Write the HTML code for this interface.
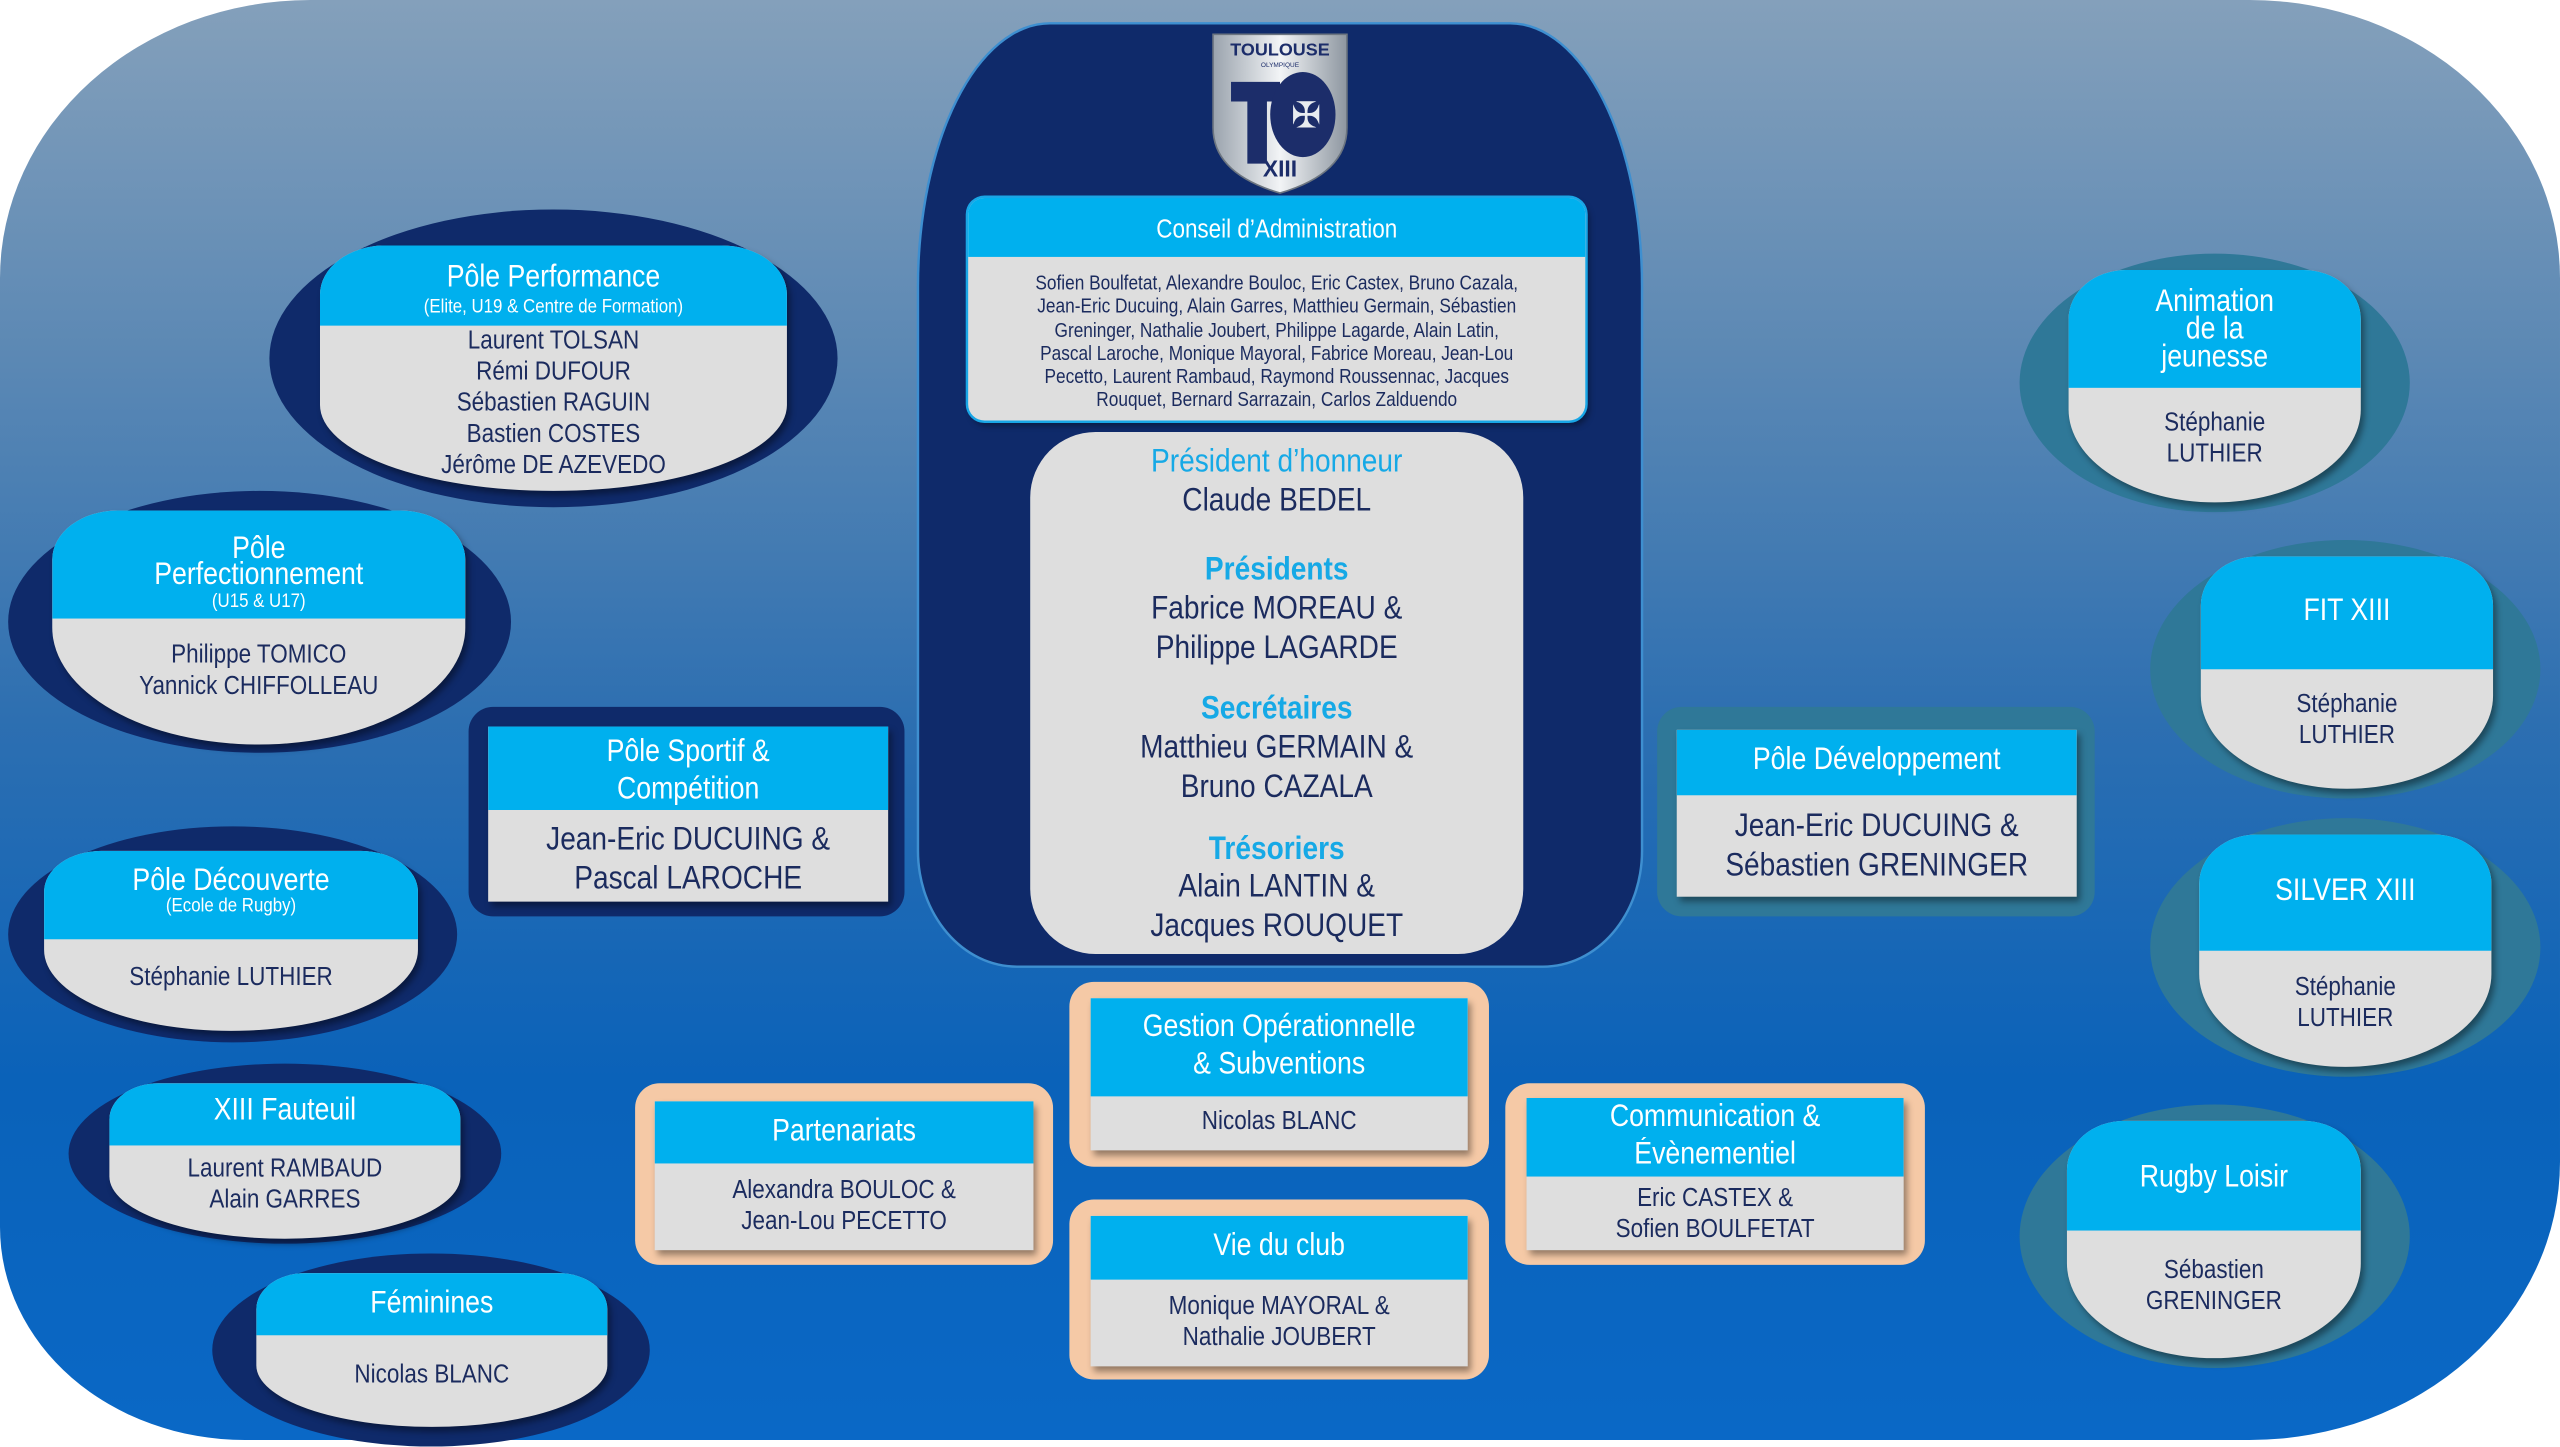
<!DOCTYPE html>
<html><head><meta charset="utf-8">
<style>
html,body{margin:0;padding:0;background:#fff;overflow:hidden}
#w{position:absolute;left:0;top:0;width:1568px;height:880px;transform-origin:0 0;transform:scale(1.63265,1.63636);font-family:"Liberation Sans",sans-serif;color:#1b2b5e}
.bg{position:absolute;left:0;top:0;width:1568px;height:880px;border-radius:190px 190px 190px 150px/170px 170px 170px 130px;background:linear-gradient(180deg,#84a0bb 0%,#5b88b4 25%,#2d6fb1 50%,#0a62b9 75%,#0a68c6 100%)}
.a{position:absolute}
.t{position:absolute;text-align:center;white-space:nowrap;line-height:20px;height:20px;transform:scaleX(0.86)}
.nav{background:#0f2a6a}
.teal{background:#2f7898}
.gray{background:#dedede}
.hd{position:absolute;left:0;right:0;top:0;background:#00b0ee}
.ell{position:absolute;border-radius:50%}
.inn{position:absolute;overflow:hidden;background:#dedede;box-shadow:2px 3px 4px rgba(0,0,0,.4)}
.w{color:#fff}
.lb{color:#16a9e6}
.sx{transform:scaleX(0.86)}
</style></head><body><div id="w">
<div class="bg"></div>

<!-- central -->
<div class="a nav" style="left:563px;top:15px;width:442px;height:575px;border-radius:80px 80px 60px 60px/160px 160px 70px 70px;box-shadow:0 0 0 1.5px #3e8fd0"></div>
<svg class="a" style="left:740px;top:18px" width="88" height="102" viewBox="0 0 88 102">
<defs><linearGradient id="sg" x1="0" x2="1"><stop offset="0" stop-color="#9aa3ad"/><stop offset=".5" stop-color="#f2f4f6"/><stop offset="1" stop-color="#8d96a0"/></linearGradient></defs>
<path d="M3 3 H85 V60 Q85 88 44 100 Q3 88 3 60 Z" fill="url(#sg)" stroke="#6c7580"/>
<text x="44" y="16" text-anchor="middle" font-family="Liberation Sans" font-weight="bold" font-size="11" fill="#1c2d6a">TOULOUSE</text>
<text x="44" y="23" text-anchor="middle" font-family="Liberation Sans" font-size="4" fill="#1c2d6a">OLYMPIQUE</text>
<path d="M14 32 H44 V44 H36 V82 H24 V44 H14 Z" fill="#1c2d6a"/>
<ellipse cx="58" cy="52" rx="20" ry="26" fill="#1c2d6a"/>
<text x="60" y="60" text-anchor="middle" font-size="22" fill="#e8ecf0">✠</text>
<text x="44" y="90" text-anchor="middle" font-family="Liberation Sans" font-weight="bold" font-size="14" fill="#1c2d6a">XIII</text>
</svg>

<div class="inn" style="left:593px;top:121px;width:378px;height:136px;border-radius:10px;box-shadow:0 0 0 1.5px #19a6e6,2px 3px 4px rgba(0,0,0,.4)"><div class="hd" style="height:36px"></div></div>
<div class="t w" style="left:593px;width:378px;top:131px;font-size:16px">Conseil d’Administration</div>
<div class="a sx" style="left:560px;width:444px;top:166px;font-size:12.3px;line-height:14.3px;text-align:center">Sofien Boulfetat, Alexandre Bouloc, Eric Castex, Bruno Cazala,<br>Jean-Eric Ducuing, Alain Garres, Matthieu Germain, Sébastien<br>Greninger, Nathalie Joubert, Philippe Lagarde, Alain Latin,<br>Pascal Laroche, Monique Mayoral, Fabrice Moreau, Jean-Lou<br>Pecetto, Laurent Rambaud, Raymond Roussennac, Jacques<br>Rouquet, Bernard Sarrazain, Carlos Zalduendo</div>

<div class="a gray" style="left:631px;top:264px;width:302px;height:319px;border-radius:40px"></div>
<div class="t lb" style="left:631px;width:302px;top:271px;font-size:20px;line-height:22px">Président d’honneur</div>
<div class="t" style="left:631px;width:302px;top:295px;font-size:20px;line-height:22px">Claude BEDEL</div>
<div class="t lb" style="left:631px;width:302px;top:337px;font-size:20px;line-height:22px;font-weight:bold">Présidents</div>
<div class="t" style="left:631px;width:302px;top:361px;font-size:20px;line-height:22px">Fabrice MOREAU &amp;</div>
<div class="t" style="left:631px;width:302px;top:385px;font-size:20px;line-height:22px">Philippe LAGARDE</div>
<div class="t lb" style="left:631px;width:302px;top:422px;font-size:20px;line-height:22px;font-weight:bold">Secrétaires</div>
<div class="t" style="left:631px;width:302px;top:446px;font-size:20px;line-height:22px">Matthieu GERMAIN &amp;</div>
<div class="t" style="left:631px;width:302px;top:470px;font-size:20px;line-height:22px">Bruno CAZALA</div>
<div class="t lb" style="left:631px;width:302px;top:508px;font-size:20px;line-height:22px;font-weight:bold">Trésoriers</div>
<div class="t" style="left:631px;width:302px;top:531px;font-size:20px;line-height:22px">Alain LANTIN &amp;</div>
<div class="t" style="left:631px;width:302px;top:555px;font-size:20px;line-height:22px">Jacques ROUQUET</div>

<!-- Pôle Performance -->
<div class="ell nav" style="left:165px;top:128px;width:348px;height:182px"></div>
<div class="inn" style="left:196px;top:150px;width:286px;height:150px;border-radius:40px 40px 50% 50%/30px 30px 35% 35%"><div class="hd" style="height:49px"></div></div>
<div class="t w" style="left:196px;width:286px;top:160px;font-size:19px">Pôle Performance</div>
<div class="t w" style="left:196px;width:286px;top:177px;font-size:12px">(Elite, U19 &amp; Centre de Formation)</div>
<div class="t" style="left:196px;width:286px;top:199px;font-size:16px">Laurent TOLSAN</div>
<div class="t" style="left:196px;width:286px;top:218px;font-size:16px">Rémi DUFOUR</div>
<div class="t" style="left:196px;width:286px;top:237px;font-size:16px">Sébastien RAGUIN</div>
<div class="t" style="left:196px;width:286px;top:256px;font-size:16px">Bastien COSTES</div>
<div class="t" style="left:196px;width:286px;top:275px;font-size:16px">Jérôme DE AZEVEDO</div>

<!-- Perfectionnement -->
<div class="ell nav" style="left:5px;top:300px;width:308px;height:160px"></div>
<div class="inn" style="left:32px;top:312px;width:253px;height:143px;border-radius:40px 40px 50% 50%/30px 30px 50% 50%"><div class="hd" style="height:66px"></div></div>
<div class="a w sx" style="left:32px;width:253px;top:328px;font-size:19px;line-height:16px;text-align:center">Pôle<br>Perfectionnement</div>
<div class="t w" style="left:32px;width:253px;top:357px;font-size:12px">(U15 &amp; U17)</div>
<div class="t" style="left:32px;width:253px;top:391px;font-size:16px">Philippe TOMICO</div>
<div class="t" style="left:32px;width:253px;top:410px;font-size:16px">Yannick CHIFFOLLEAU</div>

<!-- Sportif -->
<div class="a nav" style="left:287px;top:432px;width:267px;height:128px;border-radius:15px"></div>
<div class="inn" style="left:299px;top:444px;width:245px;height:107px"><div class="hd" style="height:51px"></div></div>
<div class="t w" style="left:299px;width:245px;top:450px;font-size:19px">Pôle Sportif &amp;</div>
<div class="t w" style="left:299px;width:245px;top:473px;font-size:19px">Compétition</div>
<div class="t" style="left:299px;width:245px;top:502px;font-size:20px;line-height:22px">Jean-Eric DUCUING &amp;</div>
<div class="t" style="left:299px;width:245px;top:526px;font-size:20px;line-height:22px">Pascal LAROCHE</div>

<!-- Découverte -->
<div class="ell nav" style="left:5px;top:505px;width:275px;height:132px"></div>
<div class="inn" style="left:27px;top:520px;width:229px;height:110px;border-radius:35px 35px 50% 50%/25px 25px 45% 45%"><div class="hd" style="height:54px"></div></div>
<div class="t w" style="left:27px;width:229px;top:529px;font-size:19px">Pôle Découverte</div>
<div class="t w" style="left:27px;width:229px;top:543px;font-size:12px">(Ecole de Rugby)</div>
<div class="t" style="left:27px;width:229px;top:588px;font-size:16px">Stéphanie LUTHIER</div>

<!-- XIII Fauteuil -->
<div class="ell nav" style="left:42px;top:650px;width:265px;height:110px"></div>
<div class="inn" style="left:67px;top:662px;width:215px;height:95px;border-radius:30px 30px 50% 50%/22px 22px 40% 40%"><div class="hd" style="height:38px"></div></div>
<div class="t w" style="left:67px;width:215px;top:669px;font-size:19px">XIII Fauteuil</div>
<div class="t" style="left:67px;width:215px;top:705px;font-size:16px">Laurent RAMBAUD</div>
<div class="t" style="left:67px;width:215px;top:724px;font-size:16px">Alain GARRES</div>

<!-- Féminines -->
<div class="ell nav" style="left:130px;top:766px;width:268px;height:118px"></div>
<div class="inn" style="left:157px;top:778px;width:215px;height:94px;border-radius:30px 30px 50% 50%/22px 22px 40% 40%"><div class="hd" style="height:38px"></div></div>
<div class="t w" style="left:157px;width:215px;top:787px;font-size:19px">Féminines</div>
<div class="t" style="left:157px;width:215px;top:831px;font-size:16px">Nicolas BLANC</div>

<!-- Right -->
<div class="ell teal" style="left:1237px;top:155px;width:239px;height:158px"></div>
<div class="inn" style="left:1267px;top:165px;width:179px;height:142px;border-radius:35px 35px 50% 50%/30px 30px 40% 40%"><div class="hd" style="height:72px"></div></div>
<div class="a w sx" style="left:1267px;width:179px;top:176px;font-size:19px;line-height:17px;text-align:center">Animation<br>de la<br>jeunesse</div>
<div class="t" style="left:1267px;width:179px;top:249px;font-size:16px">Stéphanie</div>
<div class="t" style="left:1267px;width:179px;top:268px;font-size:16px">LUTHIER</div>

<div class="ell teal" style="left:1317px;top:330px;width:239px;height:158px"></div>
<div class="inn" style="left:1348px;top:340px;width:179px;height:142px;border-radius:35px 35px 50% 50%/30px 30px 40% 40%"><div class="hd" style="height:69px"></div></div>
<div class="t w" style="left:1348px;width:179px;top:364px;font-size:19px">FIT XIII</div>
<div class="t" style="left:1348px;width:179px;top:421px;font-size:16px">Stéphanie</div>
<div class="t" style="left:1348px;width:179px;top:440px;font-size:16px">LUTHIER</div>

<div class="ell teal" style="left:1317px;top:500px;width:239px;height:158px"></div>
<div class="inn" style="left:1347px;top:510px;width:179px;height:142px;border-radius:35px 35px 50% 50%/30px 30px 40% 40%"><div class="hd" style="height:71px"></div></div>
<div class="t w" style="left:1347px;width:179px;top:535px;font-size:19px">SILVER XIII</div>
<div class="t" style="left:1347px;width:179px;top:594px;font-size:16px">Stéphanie</div>
<div class="t" style="left:1347px;width:179px;top:613px;font-size:16px">LUTHIER</div>

<div class="ell teal" style="left:1237px;top:675px;width:239px;height:161px"></div>
<div class="inn" style="left:1266px;top:685px;width:180px;height:145px;border-radius:35px 35px 50% 50%/30px 30px 40% 40%"><div class="hd" style="height:67px"></div></div>
<div class="t w" style="left:1266px;width:180px;top:710px;font-size:19px">Rugby Loisir</div>
<div class="t" style="left:1266px;width:180px;top:767px;font-size:16px">Sébastien</div>
<div class="t" style="left:1266px;width:180px;top:786px;font-size:16px">GRENINGER</div>

<!-- Développement -->
<div class="a teal" style="left:1015px;top:432px;width:268px;height:128px;border-radius:15px"></div>
<div class="inn" style="left:1027px;top:446px;width:245px;height:102px"><div class="hd" style="height:40px"></div></div>
<div class="t w" style="left:1027px;width:245px;top:455px;font-size:19px">Pôle Développement</div>
<div class="t" style="left:1027px;width:245px;top:494px;font-size:20px;line-height:22px">Jean-Eric DUCUING &amp;</div>
<div class="t" style="left:1027px;width:245px;top:518px;font-size:20px;line-height:22px">Sébastien GRENINGER</div>

<!-- peach boxes -->
<div class="a" style="left:655px;top:600px;width:257px;height:113px;border-radius:15px;background:#f5c9a6"></div>
<div class="inn" style="left:668px;top:610px;width:231px;height:93px"><div class="hd" style="height:60px"></div></div>
<div class="t w" style="left:668px;width:231px;top:618px;font-size:19px">Gestion Opérationnelle</div>
<div class="t w" style="left:668px;width:231px;top:641px;font-size:19px">&amp; Subventions</div>
<div class="t" style="left:668px;width:231px;top:676px;font-size:16px">Nicolas BLANC</div>

<div class="a" style="left:655px;top:733px;width:257px;height:110px;border-radius:15px;background:#f5c9a6"></div>
<div class="inn" style="left:668px;top:743px;width:231px;height:92px"><div class="hd" style="height:39px"></div></div>
<div class="t w" style="left:668px;width:231px;top:752px;font-size:19px">Vie du club</div>
<div class="t" style="left:668px;width:231px;top:789px;font-size:16px">Monique MAYORAL &amp;</div>
<div class="t" style="left:668px;width:231px;top:808px;font-size:16px">Nathalie JOUBERT</div>

<div class="a" style="left:389px;top:662px;width:256px;height:111px;border-radius:15px;background:#f5c9a6"></div>
<div class="inn" style="left:401px;top:673px;width:232px;height:91px"><div class="hd" style="height:38px"></div></div>
<div class="t w" style="left:401px;width:232px;top:682px;font-size:19px">Partenariats</div>
<div class="t" style="left:401px;width:232px;top:718px;font-size:16px">Alexandra BOULOC &amp;</div>
<div class="t" style="left:401px;width:232px;top:737px;font-size:16px">Jean-Lou PECETTO</div>

<div class="a" style="left:922px;top:662px;width:257px;height:111px;border-radius:15px;background:#f5c9a6"></div>
<div class="inn" style="left:935px;top:671px;width:231px;height:93px"><div class="hd" style="height:48px"></div></div>
<div class="t w" style="left:935px;width:231px;top:673px;font-size:19px">Communication &amp;</div>
<div class="t w" style="left:935px;width:231px;top:696px;font-size:19px">Évènementiel</div>
<div class="t" style="left:935px;width:231px;top:723px;font-size:16px">Eric CASTEX &amp;</div>
<div class="t" style="left:935px;width:231px;top:742px;font-size:16px">Sofien BOULFETAT</div>

</div></body></html>
